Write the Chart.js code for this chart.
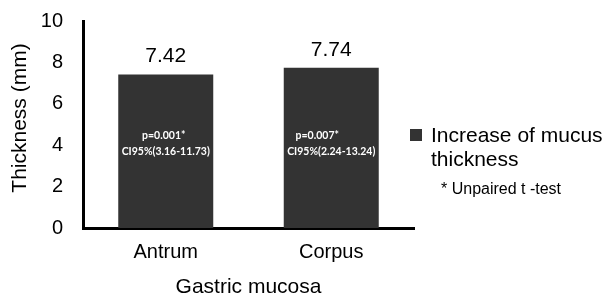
<!DOCTYPE html>
<html>
<head>
<meta charset="utf-8">
<script src="https://cdn.jsdelivr.net/npm/chart.js@4"></script>
<style>
html,body{margin:0;padding:0;background:#fff;}
#c{display:block;}
</style>
</head>
<body>
<canvas id="c" width="612" height="298"></canvas>
<script>
const categories = ["Antrum", "Corpus"];
const thickness = [7.42, 7.74];
const valueLabels = ["7.42", "7.74"];
const pLabels = ["p=0.001*", "p=0.007*"];
const ciLabels = ["CI95%(3.16-11.73)", "CI95%(2.24-13.24)"];
const yTicks = [0, 2, 4, 6, 8, 10];
const seriesName = ["Increase of mucus", "thickness"];
const footnote = "* Unpaired t -test";
const yTitle = "Thickness (mm)";
const xTitle = "Gastric mucosa";

const FONT = "'Liberation Sans', Arial, sans-serif";
const BAR = "#333333";

const annot = {
  id: "annot",
  afterDraw(chart) {
    const ctx = chart.ctx;
    const ca = chart.chartArea;
    const meta = chart.getDatasetMeta(0);
    ctx.save();
    meta.data.forEach((bar, i) => {
      ctx.fillStyle = "#000";
      ctx.font = "21px " + FONT;
      ctx.textAlign = "center";
      ctx.textBaseline = "alphabetic";
      ctx.fillText(valueLabels[i], bar.x, bar.y - 12);
      ctx.fillStyle = "#fff";
      ctx.font = "bold 10.5px Lato, 'Open Sans', sans-serif";
      ctx.textBaseline = "middle";
      const yMid = chart.scales.y.getPixelForValue(4.5);
      ctx.fillText(pLabels[i], bar.x - 2 - i * 12, yMid + 1);
      ctx.fillText(ciLabels[i], bar.x, yMid + 17);
    });
    ctx.fillStyle = "#000";
    ctx.font = "21px " + FONT;
    ctx.textAlign = "center";
    ctx.textBaseline = "middle";
    ctx.fillText(xTitle, (ca.left + ca.right) / 2, 287);
    ctx.save();
    ctx.translate(20, 118);
    ctx.rotate(-Math.PI / 2);
    ctx.fillText(yTitle, 0, 0);
    ctx.restore();
    ctx.fillStyle = BAR;
    ctx.fillRect(410, 129, 12, 12);
    ctx.fillStyle = "#000";
    ctx.textAlign = "left";
    ctx.font = "21px " + FONT;
    ctx.fillText(seriesName[0], 431, 136);
    ctx.fillText(seriesName[1], 431, 160);
    ctx.font = "16px " + FONT;
    ctx.fillText(footnote, 441, 190);
    ctx.restore();
  }
};

new Chart(document.getElementById("c"), {
  type: "bar",
  data: {
    labels: categories,
    datasets: [{
      label: seriesName.join(" "),
      data: thickness,
      backgroundColor: BAR,
      borderWidth: 0,
      barPercentage: 0.574,
      categoryPercentage: 1.0
    }]
  },
  options: {
    responsive: false,
    animation: false,
    devicePixelRatio: 1,
    layout: { padding: { left: 0, right: 198, top: 21, bottom: 0 } },
    plugins: { legend: { display: false }, tooltip: { enabled: false } },
    scales: {
      x: {
        grid: { display: false, drawTicks: false },
        border: { display: true, color: "#000", width: 3 },
        ticks: { color: "#000", font: { family: FONT, size: 20 }, padding: 12 },
        afterFit(s) { s.height = 70; s.paddingLeft = 0; s.paddingRight = 0; }
      },
      y: {
        min: 0, max: 10,
        grid: { display: false, drawTicks: false },
        border: { display: true, color: "#000", width: 3 },
        afterBuildTicks(s) { s.ticks = yTicks.map(v => ({ value: v })); },
        ticks: { color: "#000", font: { family: FONT, size: 20 }, padding: 20 },
        afterFit(s) { s.width = 83; s.paddingTop = 0; s.paddingBottom = 0; }
      }
    }
  },
  plugins: [annot]
});
</script>
</body>
</html>
